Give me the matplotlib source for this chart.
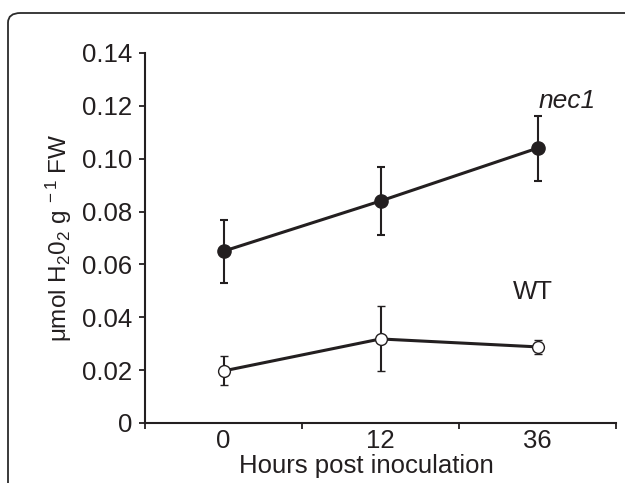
import matplotlib
matplotlib.use('Agg')
import matplotlib.pyplot as plt
from matplotlib.patches import FancyBboxPatch
from matplotlib.ticker import FixedLocator, NullFormatter

plt.rcParams['font.family'] = ['Liberation Sans', 'DejaVu Sans']
plt.rcParams['mathtext.fontset'] = 'custom'
plt.rcParams['mathtext.rm'] = 'Liberation Sans'
plt.rcParams['mathtext.it'] = 'Liberation Sans:italic'

# data
hours = ['0', '12', '36']
nec1_mean = [0.065, 0.084, 0.104]
nec1_err = [0.012, 0.013, 0.0123]
wt_mean = [0.0197, 0.0318, 0.0288]
wt_err = [0.0055, 0.0123, 0.0027]
yticks = [0, 0.02, 0.04, 0.06, 0.08, 0.10, 0.12, 0.14]
ytick_labels = ['0', '0.02', '0.04', '0.06', '0.08', '0.10', '0.12', '0.14']

ink = '#231f20'
fs = 18.5

fig = plt.figure(figsize=(6.25, 4.83), dpi=100)
W, H = 625.0, 483.0

# rounded panel frame (cut off at right and bottom)
frame = FancyBboxPatch((8 / W, -0.1), 1.2, (H - 13) / H + 0.1,
                       boxstyle='round,pad=0,rounding_size=0.02',
                       transform=fig.transFigure, fill=False,
                       edgecolor='#2b2b2b', linewidth=1.3)
fig.patches.append(frame)

ax = fig.add_axes([145 / W, 1 - 423 / H, (616 - 145) / W, (423 - 53) / H])

x = [i + 0.5 for i in range(len(hours))]

ax.errorbar(x, nec1_mean, yerr=nec1_err, color=ink, lw=2.2, marker='o',
            ms=9.5, mfc=ink, mec=ink, ecolor=ink, elinewidth=1.5,
            capsize=3, capthick=1.5, zorder=3)
ax.errorbar(x, wt_mean, yerr=wt_err, color=ink, lw=2.2, marker='o',
            ms=8.5, mfc='white', mec=ink, mew=1.0, ecolor=ink, elinewidth=1.5,
            capsize=3, capthick=1.5, zorder=3)

ax.set_xlim(0, 3)
ax.set_ylim(0, 0.14)
ax.set_yticks(yticks)
ax.set_yticklabels(ytick_labels)

ax.xaxis.set_major_locator(FixedLocator([0, 1, 2, 3]))
ax.xaxis.set_major_formatter(NullFormatter())
ax.xaxis.set_minor_locator(FixedLocator(x))
ax.set_xticklabels(hours, minor=True)

for s in ['top', 'right']:
    ax.spines[s].set_visible(False)
for s in ['left', 'bottom']:
    ax.spines[s].set_linewidth(1.5)
    ax.spines[s].set_color(ink)

ax.tick_params(axis='both', which='major', direction='out', length=4,
               width=1.3, color=ink, labelsize=fs, labelcolor=ink)
ax.tick_params(axis='y', pad=5)
ax.tick_params(axis='x', which='minor', length=0, pad=4,
               labelsize=fs, labelcolor=ink)

ax.set_xlabel('Hours post inoculation', fontsize=fs, color=ink)
ax.xaxis.set_label_coords(0.47, -0.085)
ax.set_ylabel(r'μmol H$_2$0$_2$ g$^{\ -1}$ FW', fontsize=17.5, color=ink,
              labelpad=6)

ax.text(2.69, 0.122, 'nec1', fontsize=19, style='italic', color=ink,
        ha='center', va='center')
ax.text(2.47, 0.0495, 'WT', fontsize=fs, color=ink, ha='center', va='center')

fig.savefig('out.png', dpi=100)
